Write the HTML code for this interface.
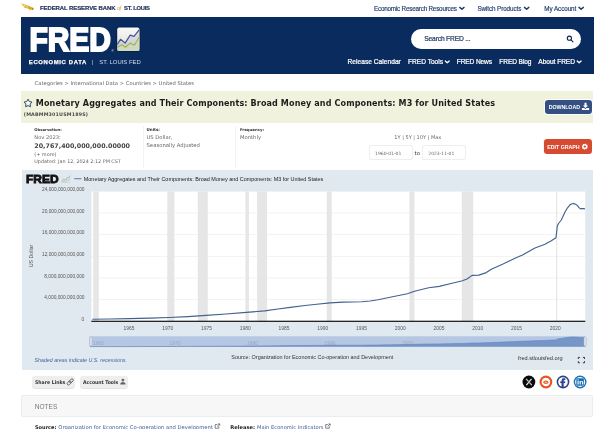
<!DOCTYPE html>
<html lang="en"><head><meta charset="utf-8"><title>Monetary Aggregates and Their Components: Broad Money and Components: M3 for United States | FRED | St. Louis Fed</title>
<style>
html,body{margin:0;padding:0;background:#fff;width:600px;height:429px;overflow:hidden;}
#page{width:600px;height:429px;position:relative;overflow:hidden;font-family:"Liberation Sans",sans-serif;}
.abs{position:absolute;}
.t{position:absolute;white-space:nowrap;}
.box{position:absolute;box-sizing:border-box;}
</style></head><body><div id="page">
<div class="box" style="left:21.4px;top:17px;width:572.4px;height:56.8px;background:#0a2b5e;"></div>
<div class="box" style="left:411.3px;top:28.8px;width:169.5px;height:20px;border-radius:10px;background:#fff;"></div>
<div class="box" style="left:21.1px;top:91.3px;width:571.7px;height:31.3px;background:#f1f2de;"></div>
<div class="box" style="left:544.4px;top:99.1px;width:48.2px;height:16.2px;border-radius:3.8px;background:#fff;"></div>
<div class="box" style="left:545.2px;top:99.9px;width:46.6px;height:14.6px;border-radius:3.2px;background:#345082;"></div>
<div class="box" style="left:543px;top:138.6px;width:49.4px;height:15.6px;border-radius:3.6px;background:#fdf3f0;"></div>
<div class="box" style="left:543.5px;top:139.1px;width:48.5px;height:14.6px;border-radius:3.2px;background:#d64a32;"></div>
<div class="box" style="left:143.3px;top:126px;width:0.5px;height:42px;background:#f3f3f3;"></div>
<div class="box" style="left:235.3px;top:126px;width:0.5px;height:42px;background:#f3f3f3;"></div>
<div class="box" style="left:369.4px;top:145px;width:43.2px;height:14.6px;border:0.6px solid #eeeeee;border-radius:2px;background:#fff;"></div>
<div class="box" style="left:422.1px;top:145px;width:43.6px;height:14.6px;border:0.6px solid #eeeeee;border-radius:2px;background:#fff;"></div>
<div class="box" style="left:21.6px;top:169.8px;width:571.4px;height:200px;background:#e1e9f0;box-shadow:0.3px 0.4px 0.8px rgba(0,0,0,0.12);"></div>
<div class="box" style="left:32.3px;top:375.6px;width:42.8px;height:12px;border-radius:4px;background:#eee;box-shadow:0 0.4px 0.8px rgba(0,0,0,0.12);"></div>
<div class="box" style="left:80.4px;top:375.6px;width:47.7px;height:12px;border-radius:4px;background:#eee;box-shadow:0 0.4px 0.8px rgba(0,0,0,0.12);"></div>
<div class="box" style="left:21.3px;top:395.4px;width:571.8px;height:22px;background:#f7f7f7;border:0.6px solid #ececec;border-radius:1.5px;"></div>
<svg class="abs" style="left:0;top:0" width="600" height="429" viewBox="0 0 600 429"><rect x="91.5" y="191.3" width="493.8" height="130" fill="#fff"/><rect x="93.2" y="191.3" width="5.6" height="130" fill="#e6e6e6"/><rect x="167.3" y="191.3" width="7.1" height="130" fill="#e6e6e6"/><rect x="197.8" y="191.3" width="10.0" height="130" fill="#e6e6e6"/><rect x="245.4" y="191.3" width="3.5" height="130" fill="#e6e6e6"/><rect x="257.1" y="191.3" width="10.0" height="130" fill="#e6e6e6"/><rect x="326.7" y="191.3" width="5.1" height="130" fill="#e6e6e6"/><rect x="409.4" y="191.3" width="5.0" height="130" fill="#e6e6e6"/><rect x="461.8" y="191.3" width="11.4" height="130" fill="#e6e6e6"/><rect x="556.1" y="191.3" width="1.2" height="130" fill="#e6e6e6"/><rect x="91.5" y="212.72" width="493.8" height="0.5" fill="#e6e6e6"/><rect x="91.5" y="234.39" width="493.8" height="0.5" fill="#e6e6e6"/><rect x="91.5" y="256.06" width="493.8" height="0.5" fill="#e6e6e6"/><rect x="91.5" y="277.73" width="493.8" height="0.5" fill="#e6e6e6"/><rect x="91.5" y="299.40" width="493.8" height="0.5" fill="#e6e6e6"/><rect x="91.5" y="191.3" width="493.8" height="0.5" fill="#e9edf2"/><path d="M92.3 319.3 L110.0 319.0 L129.0 318.6 L150.0 318.1 L169.3 317.5 L188.0 316.6 L206.0 315.4 L226.0 314.0 L246.3 312.4 L264.7 310.9 L278.0 309.0 L290.3 307.4 L305.0 305.5 L316.7 304.2 L330.0 302.9 L343.3 302.1 L362.0 301.8 L370.0 301.0 L378.0 299.7 L391.3 297.0 L407.3 293.8 L415.3 291.0 L428.7 287.8 L439.3 286.4 L450.0 283.8 L462.5 280.8 L467.5 278.8 L472.0 275.4 L478.8 275.1 L486.3 272.6 L491.3 269.3 L502.5 264.3 L515.0 258.3 L522.5 255.0 L535.0 248.0 L545.0 244.3 L551.3 240.8 L556.0 237.8 L557.3 226.0 L558.5 223.5 L561.3 220.0 L565.0 212.0 L567.5 207.8 L570.0 204.8 L572.0 203.7 L573.8 203.6 L575.6 204.2 L577.5 205.6 L579.0 207.6 L580.5 208.9 L582.0 208.6 L583.8 208.6 L585.0 209.0" fill="none" stroke="#43618f" stroke-width="1.15" stroke-linejoin="round"/><rect x="91.3" y="320.7" width="494" height="1.2" fill="#111"/><rect x="89.3" y="336.2" width="496.1" height="10.6" rx="1.2" fill="#b6c7e3"/><path d="M90.0 346.8 L90.0 346.6 L107.8 346.6 L126.9 346.6 L148.0 346.5 L167.4 346.5 L186.2 346.4 L204.3 346.3 L224.4 346.2 L244.8 346.1 L263.3 345.9 L276.7 345.8 L289.1 345.6 L303.9 345.5 L315.6 345.4 L329.0 345.3 L342.4 345.2 L361.2 345.2 L369.2 345.1 L377.3 345.0 L390.6 344.8 L406.7 344.5 L414.8 344.3 L428.2 344.0 L438.9 343.9 L449.7 343.7 L462.2 343.4 L467.3 343.3 L471.8 343.0 L478.6 343.0 L486.2 342.7 L491.2 342.5 L502.4 342.1 L515.0 341.6 L522.6 341.3 L535.1 340.7 L545.2 340.4 L551.5 340.1 L556.2 339.9 L557.5 338.9 L558.8 338.7 L561.6 338.4 L565.3 337.7 L567.8 337.4 L570.3 337.1 L572.3 337.0 L574.1 337.0 L575.9 337.1 L577.9 337.2 L579.4 337.3 L580.9 337.4 L582.4 337.4 L584.2 337.4 L585.4 337.5 L585.4 346.8 Z" fill="#7696c8"/><path d="M90.0 346.6 L107.8 346.6 L126.9 346.6 L148.0 346.5 L167.4 346.5 L186.2 346.4 L204.3 346.3 L224.4 346.2 L244.8 346.1 L263.3 345.9 L276.7 345.8 L289.1 345.6 L303.9 345.5 L315.6 345.4 L329.0 345.3 L342.4 345.2 L361.2 345.2 L369.2 345.1 L377.3 345.0 L390.6 344.8 L406.7 344.5 L414.8 344.3 L428.2 344.0 L438.9 343.9 L449.7 343.7 L462.2 343.4 L467.3 343.3 L471.8 343.0 L478.6 343.0 L486.2 342.7 L491.2 342.5 L502.4 342.1 L515.0 341.6 L522.6 341.3 L535.1 340.7 L545.2 340.4 L551.5 340.1 L556.2 339.9 L557.5 338.9 L558.8 338.7 L561.6 338.4 L565.3 337.7 L567.8 337.4 L570.3 337.1 L572.3 337.0 L574.1 337.0 L575.9 337.1 L577.9 337.2 L579.4 337.3 L580.9 337.4 L582.4 337.4 L584.2 337.4 L585.4 337.5" fill="none" stroke="#6283c0" stroke-width="0.6"/><rect x="89.6" y="336.9" width="2.5" height="9.2" rx="1.2" fill="#dde4f0" stroke="#98a2b6" stroke-width="0.4"/><rect x="583.9" y="336.9" width="2.5" height="9.2" rx="1.2" fill="#dde4f0" stroke="#98a2b6" stroke-width="0.4"/><rect x="74.3" y="178.3" width="7" height="0.9" fill="#4a6a9b"/><g fill="none" stroke="#9aa0a6" stroke-width="0.7" stroke-linejoin="round"><path d="M61.6 182.3 h8.8" stroke="#b9bec4" stroke-width="0.5"/><path d="M61.8 181 L63.8 178.9 L65.6 180.2 L67.6 177.3 L68.6 178 L70.2 175.6"/><path d="M61.8 182 L64.2 180.8 L65.8 181.7 L67.8 179.8 L68.8 180.4 L70.2 178.4" stroke="#b4bd9a"/></g><g fill="none" stroke="#222" stroke-width="0.9"><path d="M578.3 359 v-1.6 h1.6 M582.9 357.4 h1.6 v1.6 M584.5 361.2 v1.6 h-1.6 M579.9 362.8 h-1.6 v-1.6"/></g></svg>
<svg class="abs" style="left:0;top:0" width="600" height="429" viewBox="0 0 600 429"><g fill="none" stroke="#e0b62e" stroke-width="1" stroke-linecap="round"><path d="M21.8 4 L29.6 6.6"/><path d="M23 5.8 L30.2 7.5"/><path d="M24.6 7.4 L30 8.3"/></g><path d="M28.4 6.2 L31.6 7 L34.6 8.6 L33 9 L33.6 10.2 L31.2 9.4 L29.8 10.8 L29.4 9 L27.6 8.4 Z" fill="#d9ab2a"/><circle cx="32.6" cy="8.9" r="0.5" fill="#5a4a20"/><path d="M459.8 7.41 L461.9 9.19 L464 7.41" fill="none" stroke="#1f3a6e" stroke-width="1.45" stroke-linecap="round" stroke-linejoin="round"/><path d="M524.5 7.39 L526.65 9.21 L528.8 7.39" fill="none" stroke="#1f3a6e" stroke-width="1.45" stroke-linecap="round" stroke-linejoin="round"/><path d="M579 7.39 L581.15 9.21 L583.3 7.39" fill="none" stroke="#1f3a6e" stroke-width="1.45" stroke-linecap="round" stroke-linejoin="round"/><path d="M445.3 61.07 L447.25 62.73 L449.2 61.07" fill="none" stroke="#fff" stroke-width="1.35" stroke-linecap="round" stroke-linejoin="round"/><path d="M577.2 61.07 L579.1500000000001 62.73 L581.1 61.07" fill="none" stroke="#fff" stroke-width="1.35" stroke-linecap="round" stroke-linejoin="round"/><g fill="none" stroke="#10264f" stroke-width="1.1" stroke-linecap="round"><circle cx="569.4" cy="38.2" r="2.1"/><path d="M571 39.9 L573 41.9"/></g><polygon points="28.05,99.20 29.37,101.53 32.00,102.07 30.19,104.05 30.49,106.71 28.05,105.60 25.61,106.71 25.91,104.05 24.10,102.07 26.73,101.53" fill="#f3f7fa" stroke="#2d4059" stroke-width="0.95" stroke-linejoin="round"/><g fill="#fff"><path d="M584.5 102.8 h2 v2.7 h1.6 l-2.6 2.6 l-2.6 -2.6 h1.6 z"/><path d="M581.9 107.9 h2.2 l1.4 1 l1.4 -1 h2.2 v2.1 h-7.2 z"/></g><polygon points="587.94,147.22 586.88,147.99 586.58,149.26 585.29,149.05 584.18,149.74 583.41,148.68 582.14,148.38 582.35,147.09 581.66,145.98 582.72,145.21 583.02,143.94 584.31,144.15 585.42,143.46 586.19,144.52 587.46,144.82 587.25,146.11" fill="#fff"/><circle cx="584.8" cy="146.6" r="1.15" fill="#d64a32"/><defs><linearGradient id="lg" x1="0" y1="0" x2="0" y2="1"><stop offset="0" stop-color="#fafafa"/><stop offset="1" stop-color="#d9dad2"/></linearGradient></defs><rect x="116.4" y="26.6" width="23.9" height="25.3" rx="2.6" fill="#04214f"/><rect x="117.2" y="27.4" width="22.3" height="23.7" rx="2" fill="url(#lg)"/><path d="M117.4 44.4 L120.5 39.3 L125.1 43.1 L130.2 35.1 L134 36.4 L139.4 29.6 V50.9 H117.4 Z" fill="rgba(170,176,212,0.32)"/><path d="M117.4 47.3 L121.8 44.8 L125.5 47.3 L130.2 43.1 L134.4 45.2 L139.4 36.8 V50.9 H117.4 Z" fill="rgba(214,224,170,0.55)"/><path d="M117.4 44.4 L120.5 39.3 L125.1 43.1 L130.2 35.1 L134 36.4 L139.4 29.6" fill="none" stroke="#4b5787" stroke-width="1.25" stroke-linejoin="round"/><path d="M117.4 47.3 L121.8 44.8 L125.5 47.3 L130.2 43.1 L134.4 45.2 L139.4 36.8" fill="none" stroke="#a2b44e" stroke-width="1.25" stroke-linejoin="round"/><g fill="none" stroke="#555" stroke-width="0.85" transform="rotate(-45 70.2 381.9)"><rect x="66.4" y="380.6" width="4.6" height="2.6" rx="1.3"/><rect x="69.4" y="380.6" width="4.6" height="2.6" rx="1.3"/></g><g fill="#666"><circle cx="122.9" cy="380.1" r="1.4"/><path d="M120.2 384.6 q0 -2.6 2.7 -2.6 q2.7 0 2.7 2.6 z"/></g><circle cx="528.9" cy="382" r="6.4" fill="#0c0c0c"/><path d="M526.2 378.9 L531.7 385.1 M531.5 378.9 L526.4 385.1" stroke="#e8e8e8" stroke-width="1.25" fill="none"/><path d="M526.9 378.9 L531.0 385.1" stroke="#0c0c0c" stroke-width="0.35" fill="none"/><circle cx="545.9" cy="382" r="6.4" fill="#e8531f"/><circle cx="545.9" cy="382" r="4.3" fill="#fff"/><ellipse cx="545.9" cy="382.3" rx="2.5" ry="1.8" fill="#e8531f"/><ellipse cx="545.9" cy="382.4" rx="1.5" ry="0.8" fill="#f3b59c"/><circle cx="563" cy="382" r="6.4" fill="#2c428c"/><circle cx="563" cy="382" r="4.8" fill="#fff"/><path d="M563.5 386.9 v-3.9 h1.4 l0.2 -1.6 h-1.6 v-0.8 q0 -0.7 0.8 -0.7 h0.9 v-1.5 q-0.6 -0.1 -1.4 -0.1 q-2.1 0 -2.1 2.1 v1 h-1.3 v1.6 h1.3 v3.9 z" fill="#2c428c" stroke="#2c428c" stroke-width="0.3"/><circle cx="580.1" cy="382" r="6.4" fill="#1a6fb3"/><circle cx="580.1" cy="382" r="5.0" fill="#fff"/><rect x="576.3" y="378.2" width="7.6" height="7.6" rx="1.3" fill="#1a6fb3"/><g fill="#fff"><rect x="577.5" y="381" width="1.15" height="3.5"/><circle cx="578.1" cy="379.9" r="0.68"/><path d="M579.6 381 h1.1 v0.5 q0.4 -0.6 1.2 -0.6 q1.3 0 1.3 1.5 v2.1 h-1.15 v-1.9 q0 -0.8 -0.6 -0.8 q-0.7 0 -0.7 0.9 v1.8 h-1.15 z"/></g><g fill="none" stroke="#333" stroke-width="0.6"><path d="M217.39999999999998 424.6 h-2.2 v3.6 h3.6 v-2"/><path d="M217.2 426.4 L219.5 424.1 M218.0 423.9 h1.7 v1.7"/></g><g fill="none" stroke="#333" stroke-width="0.6"><path d="M327.9 424.6 h-2.2 v3.6 h3.6 v-2"/><path d="M327.7 426.4 L330.0 424.1 M328.5 423.9 h1.7 v1.7"/></g></svg>
<svg class="abs" style="left:0;top:0" width="600" height="200" viewBox="0 0 600 200"><text x="29.4" y="50.9" font-family="Liberation Sans, sans-serif" font-weight="700" font-size="32.4" fill="#fff" stroke="#fff" stroke-width="1.9" stroke-linejoin="miter" textLength="81.6" lengthAdjust="spacingAndGlyphs">FRED</text><text x="26.0" y="182.6" font-family="Liberation Sans, sans-serif" font-weight="700" font-size="10.7" fill="#111" stroke="#111" stroke-width="0.8" textLength="32.6" lengthAdjust="spacingAndGlyphs">FRED</text><text x="111.6" y="51.6" font-family="Liberation Sans, sans-serif" font-size="3" fill="#fff">®</text></svg>
<span class="t" style='left:24.7px;top:250.4px;width:12px;height:12px;font:400 5.25px/12px "Liberation Sans", sans-serif;color:#555;transform:rotate(-90deg);text-align:center;overflow:visible;'><span style="display:inline-block;white-space:nowrap;margin-left:-20px;margin-right:-20px;">US Dollar</span></span>
<span class="t" id="t0" style='left:40.00px;top:2.40px;font:normal 700 5.95px/12px "Liberation Sans", sans-serif;color:#26355c;letter-spacing:-0.061px;-webkit-text-stroke:0.2px #26355c;'>FEDERAL RESERVE BANK</span>
<span class="t" id="t1" style='left:116.90px;top:2.30px;font:italic 400 6.2px/12px "Liberation Serif", serif;color:#c9a227;letter-spacing:-0.528px;'>of</span>
<span class="t" id="t2" style='left:124.10px;top:2.40px;font:normal 700 5.8px/12px "Liberation Sans", sans-serif;color:#26355c;letter-spacing:-0.238px;-webkit-text-stroke:0.2px #26355c;'>ST. LOUIS</span>
<span class="t" id="t3" style='left:374.00px;top:2.50px;font:normal 400 6.3px/12px "Liberation Sans", sans-serif;color:#1f3a6e;letter-spacing:-0.200px;-webkit-text-stroke:0.15px #1f3a6e;'>Economic Research Resources</span>
<span class="t" id="t4" style='left:477.50px;top:2.50px;font:normal 400 6.3px/12px "Liberation Sans", sans-serif;color:#1f3a6e;letter-spacing:-0.097px;-webkit-text-stroke:0.15px #1f3a6e;'>Switch Products</span>
<span class="t" id="t5" style='left:544.30px;top:2.50px;font:normal 400 6.3px/12px "Liberation Sans", sans-serif;color:#1f3a6e;letter-spacing:-0.062px;-webkit-text-stroke:0.15px #1f3a6e;'>My Account</span>
<span class="t" id="t6" style='left:28.80px;top:55.50px;font:normal 700 5.9px/12px "Liberation Sans", sans-serif;color:#fff;letter-spacing:0.664px;-webkit-text-stroke:0.25px #fff;'>ECONOMIC DATA</span>
<span class="t" id="t7" style='left:92.00px;top:55.50px;font:normal 400 5.0px/12px "Liberation Sans", sans-serif;color:#e3eaf5;letter-spacing:0.000px;'>|</span>
<span class="t" id="t8" style='left:99.30px;top:55.50px;font:normal 400 5.94px/12px "Liberation Sans", sans-serif;color:#cfdcf0;letter-spacing:-0.007px;'>ST. LOUIS FED</span>
<span class="t" id="t9" style='left:424.30px;top:33.20px;font:normal 400 6.7px/12px "Liberation Sans", sans-serif;color:#1a315f;letter-spacing:-0.178px;-webkit-text-stroke:0.2px #1a315f;'>Search FRED ...</span>
<span class="t" id="t10" style='left:347.50px;top:56.10px;font:normal 400 6.6px/12px "Liberation Sans", sans-serif;color:#fff;letter-spacing:0.034px;-webkit-text-stroke:0.22px #fff;'>Release Calendar</span>
<span class="t" id="t11" style='left:408.00px;top:56.10px;font:normal 400 6.6px/12px "Liberation Sans", sans-serif;color:#fff;letter-spacing:-0.007px;-webkit-text-stroke:0.22px #fff;'>FRED Tools</span>
<span class="t" id="t12" style='left:456.80px;top:56.10px;font:normal 400 6.6px/12px "Liberation Sans", sans-serif;color:#fff;letter-spacing:-0.135px;-webkit-text-stroke:0.22px #fff;'>FRED News</span>
<span class="t" id="t13" style='left:499.30px;top:56.10px;font:normal 400 6.6px/12px "Liberation Sans", sans-serif;color:#fff;letter-spacing:-0.098px;-webkit-text-stroke:0.22px #fff;'>FRED Blog</span>
<span class="t" id="t14" style='left:538.30px;top:56.10px;font:normal 400 6.6px/12px "Liberation Sans", sans-serif;color:#fff;letter-spacing:-0.035px;-webkit-text-stroke:0.22px #fff;'>About FRED</span>
<span class="t" id="t15" style='left:34.60px;top:76.50px;font:normal 400 5.24px/12px "DejaVu Sans", "Liberation Sans", sans-serif;color:#666;letter-spacing:-0.001px;'>Categories &gt; International Data &gt; Countries &gt; United States</span>
<span class="t" id="t16" style='left:35.80px;top:97.60px;font:normal 700 8.05px/12px "DejaVu Sans", "Liberation Sans", sans-serif;color:#1d1d1d;letter-spacing:0.116px;'>Monetary Aggregates and Their Components: Broad Money and Components: M3 for United States</span>
<span class="t" id="t17" style='left:23.80px;top:109.00px;font:normal 700 4.8px/12px "DejaVu Sans", "Liberation Sans", sans-serif;color:#484848;letter-spacing:0.157px;'>(MABMM301USM189S)</span>
<span class="t" id="t18" style='left:548.70px;top:101.20px;font:normal 700 5.3px/12px "Liberation Sans", sans-serif;color:#fff;letter-spacing:-0.069px;'>DOWNLOAD</span>
<span class="t" id="t19" style='left:547.30px;top:140.60px;font:normal 700 5.3px/12px "Liberation Sans", sans-serif;color:#fff;letter-spacing:-0.030px;'>EDIT GRAPH</span>
<span class="t" id="t20" style='left:34.30px;top:124.30px;font:normal 700 3.79px/12px "DejaVu Sans", "Liberation Sans", sans-serif;color:#333;letter-spacing:-0.003px;'>Observation:</span>
<span class="t" id="t21" style='left:34.30px;top:131.00px;font:normal 400 5.15px/12px "DejaVu Sans", "Liberation Sans", sans-serif;color:#666;letter-spacing:0.002px;'>Nov 2023:</span>
<span class="t" id="t22" style='left:34.30px;top:139.70px;font:normal 700 6.34px/12px "DejaVu Sans", "Liberation Sans", sans-serif;color:#444;letter-spacing:0.001px;'>20,767,400,000,000.00000</span>
<span class="t" id="t23" style='left:34.30px;top:147.70px;font:normal 400 4.91px/12px "DejaVu Sans", "Liberation Sans", sans-serif;color:#666;letter-spacing:-0.003px;'>(+ more)</span>
<span class="t" id="t24" style='left:34.30px;top:155.30px;font:normal 400 4.86px/12px "DejaVu Sans", "Liberation Sans", sans-serif;color:#666;letter-spacing:-0.005px;'>Updated: Jan 12, 2024 2:12 PM CST</span>
<span class="t" id="t25" style='left:146.50px;top:124.30px;font:normal 700 4.05px/12px "DejaVu Sans", "Liberation Sans", sans-serif;color:#333;letter-spacing:-0.006px;'>Units:</span>
<span class="t" id="t26" style='left:146.50px;top:131.00px;font:normal 400 5.24px/12px "DejaVu Sans", "Liberation Sans", sans-serif;color:#666;letter-spacing:0.002px;'>US Dollar,</span>
<span class="t" id="t27" style='left:146.50px;top:139.00px;font:normal 400 5.31px/12px "DejaVu Sans", "Liberation Sans", sans-serif;color:#666;letter-spacing:0.004px;'>Seasonally Adjusted</span>
<span class="t" id="t28" style='left:240.00px;top:124.30px;font:normal 700 3.85px/12px "DejaVu Sans", "Liberation Sans", sans-serif;color:#333;letter-spacing:-0.005px;'>Frequency:</span>
<span class="t" id="t29" style='left:240.00px;top:131.00px;font:normal 400 5.24px/12px "DejaVu Sans", "Liberation Sans", sans-serif;color:#666;letter-spacing:0.005px;'>Monthly</span>
<span class="t" id="t30" style='left:394.30px;top:131.00px;font:normal 400 5.02px/12px "DejaVu Sans", "Liberation Sans", sans-serif;color:#666;letter-spacing:0.002px;'>1Y | 5Y | 10Y | Max</span>
<span class="t" id="t31" style='left:375.00px;top:147.50px;font:normal 400 4.53px/12px "DejaVu Sans", "Liberation Sans", sans-serif;color:#666;letter-spacing:0.006px;'>1960-01-01</span>
<span class="t" id="t32" style='left:414.60px;top:146.80px;font:normal 400 5.37px/12px "DejaVu Sans", "Liberation Sans", sans-serif;color:#333;letter-spacing:0.009px;'>to</span>
<span class="t" id="t33" style='left:428.30px;top:147.50px;font:normal 400 4.48px/12px "DejaVu Sans", "Liberation Sans", sans-serif;color:#666;letter-spacing:0.002px;'>2023-11-01</span>
<span class="t" id="t34" style='left:83.80px;top:173.20px;font:normal 400 5.45px/12px "Liberation Sans", sans-serif;color:#222;letter-spacing:0.002px;'>Monetary Aggregates and Their Components: Broad Money and Components: M3 for United States</span>
<span class="t" id="t35" style='left:42.00px;top:183.90px;font:normal 400 4.78px/12px "Liberation Sans", sans-serif;color:#555;letter-spacing:0.006px;'>24,000,000,000,000</span>
<span class="t" id="t36" style='left:42.00px;top:205.57px;font:normal 400 4.78px/12px "Liberation Sans", sans-serif;color:#555;letter-spacing:0.006px;'>20,000,000,000,000</span>
<span class="t" id="t37" style='left:42.00px;top:227.24px;font:normal 400 4.78px/12px "Liberation Sans", sans-serif;color:#555;letter-spacing:0.006px;'>16,000,000,000,000</span>
<span class="t" id="t38" style='left:42.00px;top:248.91px;font:normal 400 4.78px/12px "Liberation Sans", sans-serif;color:#555;letter-spacing:0.006px;'>12,000,000,000,000</span>
<span class="t" id="t39" style='left:44.30px;top:270.58px;font:normal 400 4.82px/12px "Liberation Sans", sans-serif;color:#555;letter-spacing:0.003px;'>8,000,000,000,000</span>
<span class="t" id="t40" style='left:44.30px;top:292.25px;font:normal 400 4.82px/12px "Liberation Sans", sans-serif;color:#555;letter-spacing:0.003px;'>4,000,000,000,000</span>
<span class="t" id="t41" style='left:81.60px;top:313.92px;font:normal 400 4.8px/12px "Liberation Sans", sans-serif;color:#555;letter-spacing:0.000px;'>0</span>
<span class="t" id="t42" style='left:123.60px;top:323.20px;font:normal 400 4.86px/12px "Liberation Sans", sans-serif;color:#555;letter-spacing:-0.004px;'>1965</span>
<span class="t" id="t43" style='left:162.35px;top:323.20px;font:normal 400 4.86px/12px "Liberation Sans", sans-serif;color:#555;letter-spacing:-0.004px;'>1970</span>
<span class="t" id="t44" style='left:201.10px;top:323.20px;font:normal 400 4.86px/12px "Liberation Sans", sans-serif;color:#555;letter-spacing:-0.004px;'>1975</span>
<span class="t" id="t45" style='left:239.85px;top:323.20px;font:normal 400 4.86px/12px "Liberation Sans", sans-serif;color:#555;letter-spacing:-0.004px;'>1980</span>
<span class="t" id="t46" style='left:278.60px;top:323.20px;font:normal 400 4.86px/12px "Liberation Sans", sans-serif;color:#555;letter-spacing:-0.004px;'>1985</span>
<span class="t" id="t47" style='left:317.35px;top:323.20px;font:normal 400 4.86px/12px "Liberation Sans", sans-serif;color:#555;letter-spacing:-0.004px;'>1990</span>
<span class="t" id="t48" style='left:356.10px;top:323.20px;font:normal 400 4.86px/12px "Liberation Sans", sans-serif;color:#555;letter-spacing:-0.004px;'>1995</span>
<span class="t" id="t49" style='left:394.85px;top:323.20px;font:normal 400 4.86px/12px "Liberation Sans", sans-serif;color:#555;letter-spacing:-0.004px;'>2000</span>
<span class="t" id="t50" style='left:433.60px;top:323.20px;font:normal 400 4.86px/12px "Liberation Sans", sans-serif;color:#555;letter-spacing:-0.004px;'>2005</span>
<span class="t" id="t51" style='left:472.35px;top:323.20px;font:normal 400 4.86px/12px "Liberation Sans", sans-serif;color:#555;letter-spacing:-0.004px;'>2010</span>
<span class="t" id="t52" style='left:511.10px;top:323.20px;font:normal 400 4.86px/12px "Liberation Sans", sans-serif;color:#555;letter-spacing:-0.004px;'>2015</span>
<span class="t" id="t53" style='left:549.85px;top:323.20px;font:normal 400 4.86px/12px "Liberation Sans", sans-serif;color:#555;letter-spacing:-0.004px;'>2020</span>
<span class="t" id="t54" style='left:93.00px;top:338.20px;font:normal 400 4.86px/12px "Liberation Sans", sans-serif;color:rgba(120,135,170,0.5);letter-spacing:-0.004px;'>1960</span>
<span class="t" id="t55" style='left:169.60px;top:338.20px;font:normal 400 4.86px/12px "Liberation Sans", sans-serif;color:rgba(120,135,170,0.5);letter-spacing:-0.004px;'>1970</span>
<span class="t" id="t56" style='left:247.10px;top:338.20px;font:normal 400 4.86px/12px "Liberation Sans", sans-serif;color:rgba(120,135,170,0.5);letter-spacing:-0.004px;'>1980</span>
<span class="t" id="t57" style='left:324.60px;top:338.20px;font:normal 400 4.86px/12px "Liberation Sans", sans-serif;color:rgba(120,135,170,0.5);letter-spacing:-0.004px;'>1990</span>
<span class="t" id="t58" style='left:402.10px;top:338.20px;font:normal 400 4.86px/12px "Liberation Sans", sans-serif;color:rgba(120,135,170,0.5);letter-spacing:-0.004px;'>2000</span>
<span class="t" id="t59" style='left:34.50px;top:354.40px;font:italic 400 5.29px/12px "Liberation Sans", sans-serif;color:#44679e;letter-spacing:0.000px;'>Shaded areas indicate U.S. recessions.</span>
<span class="t" id="t60" style='left:231.30px;top:350.60px;font:normal 400 5.47px/12px "Liberation Sans", sans-serif;color:#333;letter-spacing:-0.005px;'>Source: Organization for Economic Co-operation and Development</span>
<span class="t" id="t61" style='left:518.00px;top:351.60px;font:normal 400 5.6px/12px "Liberation Sans", sans-serif;color:#333;letter-spacing:0.002px;'>fred.stlouisfed.org</span>
<span class="t" id="t62" style='left:35.00px;top:376.10px;font:normal 700 5.13px/12px "DejaVu Sans Condensed", "DejaVu Sans", sans-serif;color:#333;letter-spacing:-0.004px;'>Share Links</span>
<span class="t" id="t63" style='left:83.00px;top:376.10px;font:normal 700 5.08px/12px "DejaVu Sans Condensed", "DejaVu Sans", sans-serif;color:#333;letter-spacing:-0.008px;'>Account Tools</span>
<span class="t" id="t64" style='left:34.80px;top:400.80px;font:normal 400 6.54px/12px "Liberation Sans", sans-serif;color:#777;letter-spacing:0.000px;'>NOTES</span>
<span class="t" id="t65" style='left:35.00px;top:420.90px;font:normal 700 5.03px/12px "DejaVu Sans", "Liberation Sans", sans-serif;color:#222;letter-spacing:0.003px;'>Source:</span>
<span class="t" id="t66" style='left:58.30px;top:420.90px;font:normal 400 5.28px/12px "DejaVu Sans", "Liberation Sans", sans-serif;color:#3f6099;letter-spacing:0.006px;'>Organization for Economic Co-operation and Development</span>
<span class="t" id="t67" style='left:230.30px;top:420.90px;font:normal 700 5.14px/12px "DejaVu Sans", "Liberation Sans", sans-serif;color:#222;letter-spacing:-0.000px;'>Release:</span>
<span class="t" id="t68" style='left:257.00px;top:420.90px;font:normal 400 5.2px/12px "DejaVu Sans", "Liberation Sans", sans-serif;color:#3f6099;letter-spacing:0.003px;'>Main Economic Indicators</span>
</div></body></html>
